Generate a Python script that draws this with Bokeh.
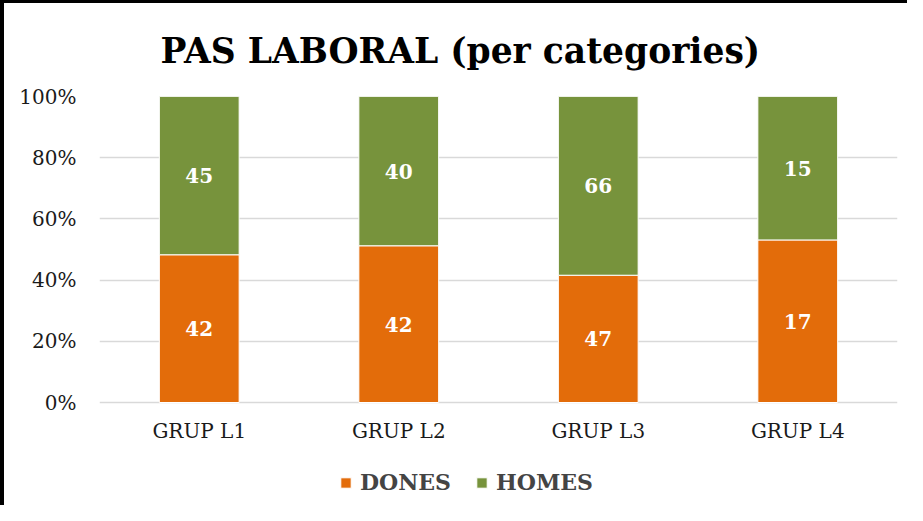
from bokeh.plotting import figure
from bokeh.layouts import column
from bokeh.models import ColumnDataSource, NumeralTickFormatter, Legend, LegendItem, FixedTicker
from bokeh.core.properties import value
from bokeh.embed import file_html
from bokeh.resources import INLINE

categories = ["GRUP L1", "GRUP L2", "GRUP L3", "GRUP L4"]
dones = [42, 42, 47, 17]
homes = [45, 40, 66, 15]
series = ["DONES", "HOMES"]
colors = ["#E36C0A", "#77933C"]
y_ticks = [0, 0.2, 0.4, 0.6, 0.8, 1.0]

tot = [d + h for d, h in zip(dones, homes)]
f_d = [d / t for d, t in zip(dones, tot)]
f_h = [h / t for h, t in zip(homes, tot)]

FONT = "DejaVu Serif"
LABEL_Y = -28 / 306          # category labels sit 28px under the 0% line
Y_START = -103 / 306         # room under the bars for category labels and legend

src = ColumnDataSource(dict(
    cat=categories, DONES=f_d, HOMES=f_h,
    yd=[v / 2 for v in f_d],
    yh=[a + b / 2 for a, b in zip(f_d, f_h)],
    td=[str(v) for v in dones], th=[str(v) for v in homes],
    ly=[LABEL_Y] * len(categories),
))

p = figure(x_range=categories, y_range=(Y_START, 1), width=903, height=502,
           output_backend="svg", toolbar_location=None,
           title="PAS LABORAL (per categories)",
           min_border_left=95, min_border_right=10, min_border_top=1, min_border_bottom=0)
p.outline_line_color = None
p.title.align = "left"
p.title.offset = 61
p.title.text_font = FONT
p.title.text_font_style = "bold"
p.title.text_font_size = "34.5px"
p.title.text_color = "black"
p.title.standoff = 51

r = p.vbar_stack(series, x="cat", width=0.4, source=src, color=colors,
                 line_color="white", line_width=1)

p.text(x="cat", y="yd", text="td", source=src, text_align="center",
       text_baseline="middle", text_color="white", text_font=value(FONT),
       text_font_style="bold", text_font_size="20px")
p.text(x="cat", y="yh", text="th", source=src, text_align="center",
       text_baseline="middle", text_color="white", text_font=value(FONT),
       text_font_style="bold", text_font_size="20px")
# category axis labels
p.text(x="cat", y="ly", text="cat", source=src, text_align="center",
       text_baseline="middle", text_color="#1a1a1a", text_font=value(FONT),
       text_font_size="20px")

p.xaxis.visible = False
p.yaxis.ticker = FixedTicker(ticks=y_ticks)
p.yaxis.formatter = NumeralTickFormatter(format="0%")
p.yaxis.axis_line_color = None
p.yaxis.major_tick_line_color = None
p.yaxis.minor_tick_line_color = None
p.yaxis.major_label_text_font = FONT
p.yaxis.major_label_text_font_size = "20px"
p.yaxis.major_label_text_color = "#1a1a1a"
p.yaxis.major_label_standoff = 17
p.xgrid.grid_line_color = None
p.ygrid.grid_line_color = "#d9d9d9"
p.ygrid.grid_line_width = 1.5

legend = Legend(items=[LegendItem(label=s, renderers=[rr]) for s, rr in zip(series, r)],
                orientation="horizontal", location=(240, 10))
legend.label_text_font = FONT
legend.label_text_font_style = "bold"
legend.label_text_font_size = "22px"
legend.glyph_width = 13
legend.glyph_height = 13
legend.label_standoff = 8
legend.spacing = 24
legend.padding = 0
legend.margin = 0
legend.border_line_color = None
legend.background_fill_alpha = 0
p.add_layout(legend, "center")

layout = column(p, styles={"border-left": "4px solid black", "border-top": "3px solid black"})
open("out.html", "w").write(file_html(layout, INLINE))
